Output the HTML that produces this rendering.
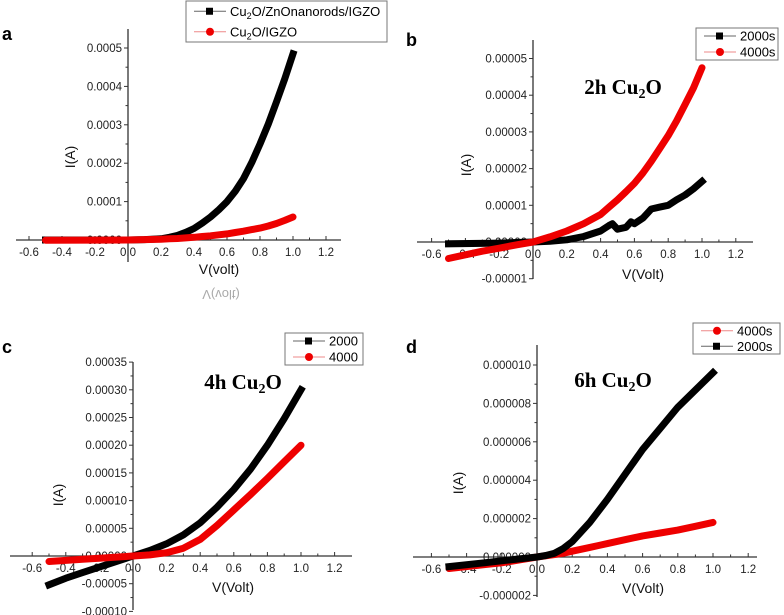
<!DOCTYPE html>
<html><head><meta charset="utf-8">
<style>
html,body{margin:0;padding:0;background:#fff;}
svg{display:block;font-family:"Liberation Sans",sans-serif;}
.tk{font-size:11.5px;fill:#222;}
.lab{font-size:14px;fill:#111;}
.pl{font-size:18px;font-weight:bold;fill:#000;}
.ann{font-family:"Liberation Serif",serif;font-size:21px;font-weight:bold;fill:#000;}
.lg{font-size:13px;fill:#000;}
</style></head>
<body>
<svg id="fig" width="784" height="615" viewBox="0 0 784 615" xmlns="http://www.w3.org/2000/svg">
<text x="221" y="-290" text-anchor="middle" style="fill:#aaa;font-size:13px" transform="scale(1,-1)">V(volt)</text>
</svg>
<script>
// Panel a
const aV = [-0.5,-0.2,0,0.1,0.2,0.25,0.3,0.35,0.4,0.45,0.5,0.55,0.6,0.65,0.7,0.75,0.8,0.85,0.9,0.95,1.0];
const aBlack = [0,0,0,0.000001,0.000003,0.000007,0.000012,0.00002,0.00003,0.000044,0.00006,0.000079,0.0001,0.000127,0.00016,0.000202,0.00025,0.000302,0.00036,0.00042,0.000485];
const aRed = [-0.0000005,-0.0000002,0,0.000001,0.000002,0.000003,0.000004,0.0000055,0.000007,0.000009,0.000011,0.0000135,0.000016,0.0000195,0.000023,0.000027,0.000031,0.0000365,0.000043,0.000051,0.00006];
const aYTicks = [0,0.0001,0.0002,0.0003,0.0004,0.0005];
const aYLabels = ["0.0000","0.0001","0.0002","0.0003","0.0004","0.0005"];
// Panel b
const bVBlack = [-0.5,-0.2,0,0.1,0.2,0.3,0.4,0.45,0.47,0.5,0.55,0.58,0.6,0.65,0.7,0.75,0.8,0.85,0.9,0.95,1.0];
const bBlack = [-0.0000005,-0.0000003,0,0.0000002,0.0000006,0.0000015,0.000003,0.0000045,0.000005,0.0000035,0.000004,0.0000055,0.000005,0.0000065,0.000009,0.0000095,0.00001,0.0000115,0.0000128,0.0000145,0.0000165];
const bVRed = [-0.5,-0.4,-0.3,-0.2,-0.1,0,0.1,0.2,0.3,0.4,0.45,0.5,0.55,0.6,0.65,0.7,0.75,0.8,0.85,0.9,0.95,1.0];
const bRed = [-0.0000045,-0.0000035,-0.0000025,-0.0000017,-0.0000008,0,0.0000014,0.000003,0.000005,0.0000075,0.0000095,0.0000115,0.0000137,0.000016,0.0000188,0.000022,0.0000255,0.000029,0.000033,0.0000375,0.000042,0.0000475];
const bYTicks = [-0.00001,0,0.00001,0.00002,0.00003,0.00004,0.00005];
const bYLabels = ["-0.00001","0.00000","0.00001","0.00002","0.00003","0.00004","0.00005"];
// Panel c
const cV = [-0.5,-0.4,-0.3,-0.2,-0.1,0,0.1,0.2,0.3,0.4,0.5,0.6,0.7,0.8,0.9,1.0];
const cBlack = [-0.000052,-0.00004,-0.00003,-0.00002,-0.00001,0,0.00001,0.000022,0.000038,0.00006,0.000088,0.00012,0.000157,0.0002,0.000248,0.0003];
const cRed = [-0.00001,-0.000008,-0.000006,-0.000004,-0.000002,0,0.000002,0.000006,0.000014,0.00003,0.000055,0.000083,0.000111,0.00014,0.00017,0.0002];
const cYTicks = [-0.0001,-0.00005,0,0.00005,0.0001,0.00015,0.0002,0.00025,0.0003,0.00035];
const cYLabels = ["-0.00010","-0.00005","0.00000","0.00005","0.00010","0.00015","0.00020","0.00025","0.00030","0.00035"];
// Panel d
const dV = [-0.5,-0.3,-0.2,-0.1,0,0.05,0.1,0.15,0.2,0.25,0.3,0.35,0.4,0.5,0.6,0.7,0.8,0.9,1.0];
const dBlack = [-0.0000005,-0.0000003,-0.0000002,-0.0000001,0,0.00000008,0.0000002,0.00000045,0.0000008,0.0000013,0.0000018,0.0000024,0.000003,0.0000043,0.0000056,0.0000067,0.0000078,0.0000087,0.0000096];
const dRed = [-0.0000006,-0.0000004,-0.0000003,-0.00000015,0,0.00000006,0.00000013,0.0000002,0.0000003,0.0000004,0.0000005,0.0000006,0.0000007,0.0000009,0.0000011,0.00000125,0.0000014,0.0000016,0.0000018];
const dYTicks = [-0.000002,0,0.000002,0.000004,0.000006,0.000008,0.00001];
const dYLabels = ["-0.000002","0.000000","0.000002","0.000004","0.000006","0.000008","0.000010"];
const xTicks = [-0.6,-0.4,-0.2,0,0.2,0.4,0.6,0.8,1.0,1.2];
const xLabels = ["-0.6","-0.4","-0.2","0.0","0.2","0.4","0.6","0.8","1.0","1.2"];

const NS = "http://www.w3.org/2000/svg";
const svg = document.getElementById('fig');
function mk(tag, attrs, parent, txt){
  const e = document.createElementNS(NS, tag);
  for (const k in attrs) e.setAttribute(k, attrs[k]);
  if (txt !== undefined) e.textContent = txt;
  (parent || svg).appendChild(e);
  return e;
}

function panel(cfg){
  const g = mk('g', {});
  
  
  const sx = v => cfg.x0 + v * cfg.xs;
  const sy = v => cfg.y0 - (v / cfg.yUnit) * cfg.ys;
  const xa = mk('line', {x1:cfg.xl, x2:cfg.xr, y1:cfg.y0, y2:cfg.y0, stroke:'#333', 'stroke-width':1.3}, g);
  
  
  for (let i = 0; i < xTicks.length; i++) {
    const x = sx(xTicks[i]);
    mk('line', {x1:x, x2:x, y1:cfg.y0, y2:cfg.y0 - 4, stroke:'#333'}, g);
    if (i < xTicks.length - 1) { const xm = sx(xTicks[i] + 0.1); mk('line', {x1:xm, x2:xm, y1:cfg.y0, y2:cfg.y0 - 2.5, stroke:'#333'}, g); }
    const t = mk('text', {x:x, y:cfg.y0 + 16, 'text-anchor':'middle', class:'tk'}, g, xLabels[i]);
    
    
  }
  const ya = mk('line', {x1:cfg.x0, x2:cfg.x0, y1:cfg.yt, y2:cfg.yb, stroke:'#333', 'stroke-width':1.3}, g);
  
  
  for (let i = 0; i < cfg.yTicks.length; i++) {
    const y = sy(cfg.yTicks[i]);
    mk('line', {x1:cfg.x0, x2:cfg.x0 - 4, y1:y, y2:y, stroke:'#333'}, g);
    if (i < cfg.yTicks.length - 1) { const ym = sy((cfg.yTicks[i] + cfg.yTicks[i+1]) / 2); mk('line', {x1:cfg.x0, x2:cfg.x0 - 2.5, y1:ym, y2:ym, stroke:'#333'}, g); }
    const t = mk('text', {x:cfg.x0 - 6, y:y + 4, 'text-anchor':'end', class:'tk'}, g, cfg.yLabels[i]);
    
    
  }
  cfg.series.forEach(s => {
    const pts = s.v.map((v, i) => sx(v).toFixed(1) + ',' + sy(s.i[i]).toFixed(1)).join(' ');
    const p = mk('polyline', {points:pts, fill:'none', stroke:s.color, 'stroke-width':7, 'stroke-linejoin':'round', 'stroke-linecap': s.color === '#000' ? 'square' : 'round'}, g);
    
    
  });
  const pl = mk('text', {x:cfg.px, y:cfg.py, class:'pl'}, g, cfg.id);
  
  
  const xt = mk('text', {x:cfg.xlx, y:cfg.xly, 'text-anchor':'middle', class:'lab'}, g, cfg.xTitle);
  
  
  const yt = mk('text', {x:cfg.ylx, y:cfg.yly, 'text-anchor':'middle', class:'lab', transform:'rotate(-90 ' + cfg.ylx + ' ' + cfg.yly + ')'}, g, 'I(A)');
  
  
  if (cfg.ann) {
    const a = mk('text', {x:cfg.annx, y:cfg.anny, 'text-anchor':'middle', class:'ann'}, g);
    
    
    mk('tspan', {}, a, cfg.ann + ' Cu');
    mk('tspan', {'font-size':'14px', dy:'4'}, a, '2');
    mk('tspan', {dy:'-4'}, a, 'O');
  }
  const L = cfg.leg;
  const lg = mk('g', {}, g);
  
  
  mk('rect', {x:L.x, y:L.y, width:L.w, height:L.h, fill:'#fff', stroke:'#777', 'stroke-width':1}, lg);
  L.items.forEach((it, k) => {
    const yy = L.y + L.h * (k + 0.5) / L.items.length;
    const e = mk('g', {}, lg);
    
    
    mk('line', {x1:L.x + 8, x2:L.x + 40, y1:yy, y2:yy, stroke: it.c === '#000' ? '#666' : '#e88', 'stroke-width':1}, e);
    if (it.c === '#000') mk('rect', {x:L.x + 20, y:yy - 3.5, width:7, height:7, fill:'#000'}, e);
    else mk('circle', {cx:L.x + 24, cy:yy, r:4, fill:'#e00'}, e);
    const t = mk('text', {x:L.x + 44, y:yy + 4.5, class:'lg'}, e);
    if (it.sub) { mk('tspan', {}, t, 'Cu'); mk('tspan', {'font-size':'9px', dy:'3'}, t, '2'); mk('tspan', {dy:'-3'}, t, it.t); }
    else t.textContent = it.t;
  });
}

panel({id:'a', x0:128, xs:165, y0:240, ys:38.4, yUnit:0.0001, xl:16, xr:341, yt:29, yb:262,
  yTicks:aYTicks, yLabels:aYLabels, xTitle:'V(volt)',
  series:[{name:'series-cu2o-zno-igzo', v:aV, i:aBlack, color:'#000'},{name:'series-cu2o-igzo', v:aV, i:aRed, color:'#e00'}],
  px:2, py:40, xlx:219, xly:274, ylx:75, yly:157,
  leg:{x:186, y:1, w:201, h:41, items:[{c:'#000', t:'O/ZnOnanorods/IGZO', sub:1},{c:'#e00', t:'O/IGZO', sub:1}]}});
panel({id:'b', x0:533, xs:169, y0:242, ys:36.7, yUnit:0.00001, xl:417, xr:753, yt:40, yb:279,
  yTicks:bYTicks, yLabels:bYLabels, xTitle:'V(Volt)',
  series:[{name:'series-2000s', v:bVBlack, i:bBlack, color:'#000'},{name:'series-4000s', v:bVRed, i:bRed, color:'#e00'}],
  px:406, py:46, xlx:643, xly:279, ylx:471, yly:165, ann:'2h', annx:623, anny:94,
  leg:{x:696, y:28, w:82, h:32, items:[{c:'#000', t:'2000s'},{c:'#e00', t:'4000s'}]}});
panel({id:'c', x0:133, xs:168, y0:556, ys:27.7, yUnit:0.00005, xl:10, xr:352, yt:362, yb:610,
  yTicks:cYTicks, yLabels:cYLabels, xTitle:'V(Volt)',
  series:[{name:'series-2000', v:cV, i:cBlack, color:'#000'},{name:'series-4000', v:cV, i:cRed, color:'#e00'}],
  px:2, py:353, xlx:233, xly:592, ylx:63, yly:495, ann:'4h', annx:243, anny:389,
  leg:{x:285, y:333, w:78, h:32, items:[{c:'#000', t:'2000'},{c:'#e00', t:'4000'}]}});
panel({id:'d', x0:537, xs:176, y0:557, ys:38.4, yUnit:0.000002, xl:413, xr:757, yt:345, yb:597,
  yTicks:dYTicks, yLabels:dYLabels, xTitle:'V(Volt)',
  series:[{name:'series-4000s', v:dV, i:dRed, color:'#e00'},{name:'series-2000s', v:dV, i:dBlack, color:'#000'}],
  px:406, py:353, xlx:643, xly:593, ylx:463, yly:483, ann:'6h', annx:613, anny:387,
  leg:{x:693, y:323, w:87, h:31, items:[{c:'#e00', t:'4000s'},{c:'#000', t:'2000s'}]}});
</script>
</body></html>
